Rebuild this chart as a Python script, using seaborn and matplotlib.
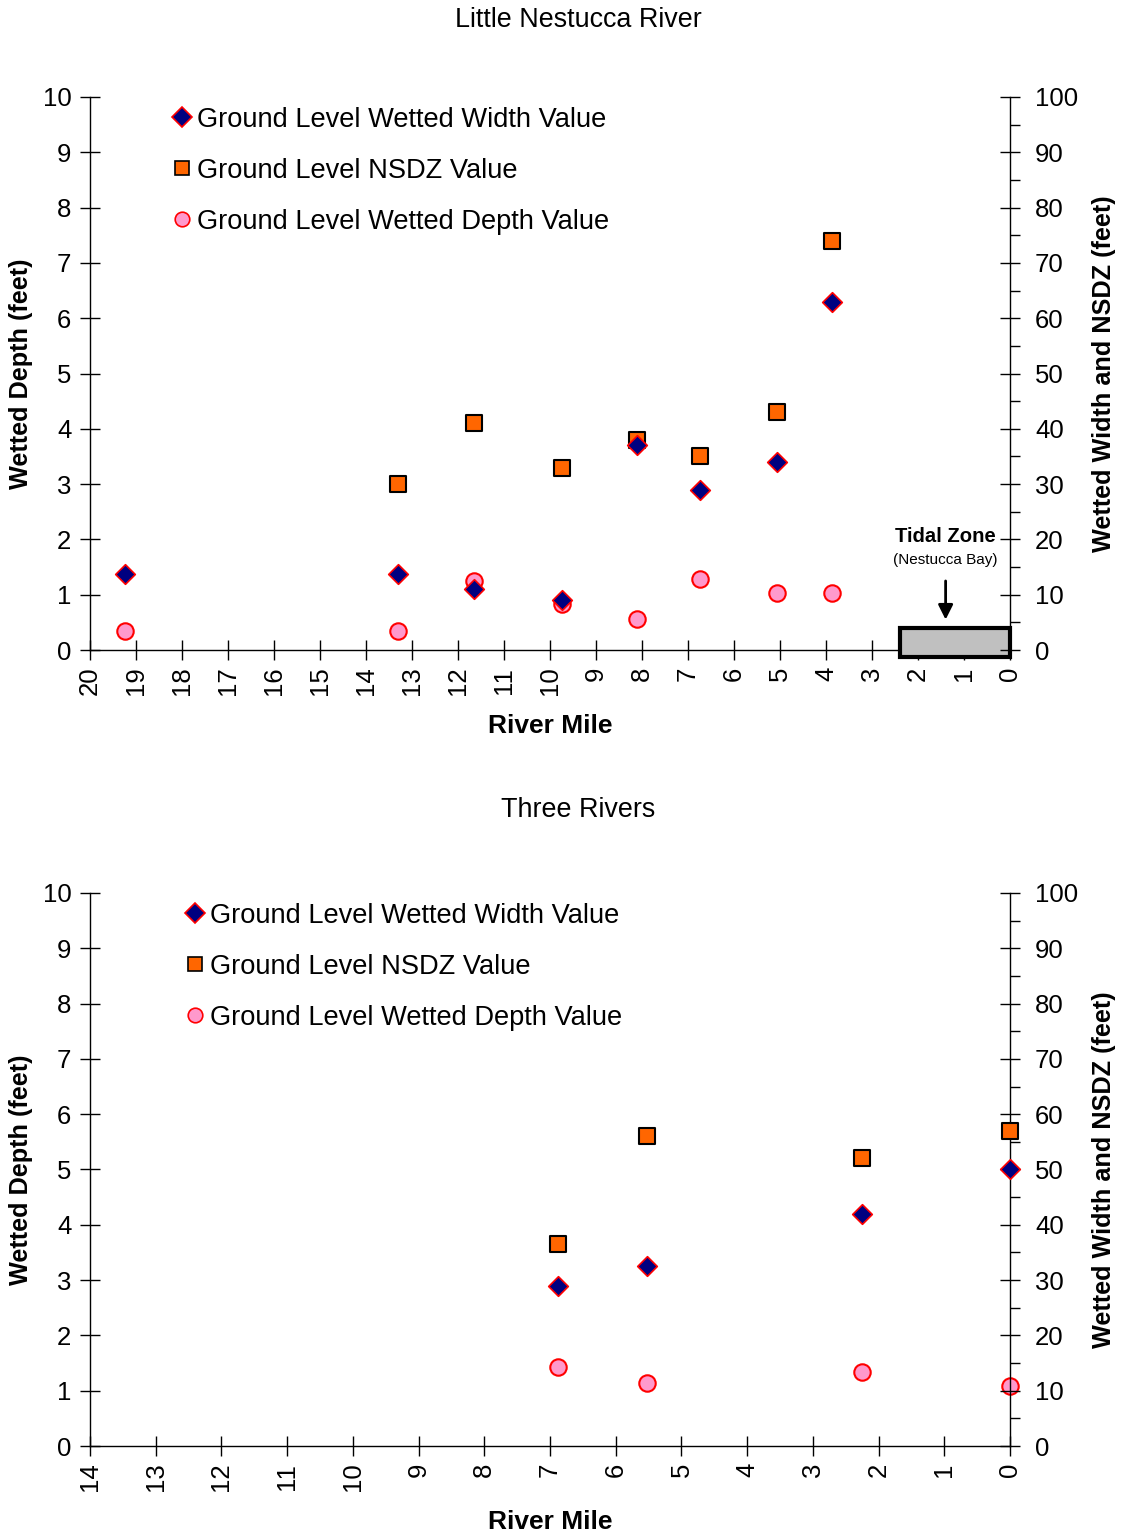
import matplotlib
matplotlib.use("Agg")
import matplotlib.pyplot as plt
import seaborn as sns
import pandas as pd
from matplotlib.lines import Line2D
from matplotlib.patches import Rectangle

# Little Nestucca River
ln_mile = [19.24, 13.3, 11.65, 9.74, 8.1, 6.74, 5.07, 3.87]
ln_width = [13.7, 13.7, 11.0, 9.0, 37.0, 29.0, 34.0, 63.0]
ln_nsdz = [None, 30.0, 41.0, 33.0, 38.0, 35.0, 43.0, 74.0]
ln_depth = [0.34, 0.34, 1.25, 0.83, 0.56, 1.29, 1.03, 1.03]

# Three Rivers
tr_mile = [6.88, 5.53, 2.25, 0.0]
tr_width = [28.9, 32.5, 42.0, 50.0]
tr_nsdz = [36.5, 56.0, 52.0, 57.0]
tr_depth = [1.43, 1.14, 1.34, 1.08]

titles = ["Little Nestucca River", "Three Rivers"]
x_max = [20, 14]
labels = ["Ground Level Wetted Width Value", "Ground Level NSDZ Value",
          "Ground Level Wetted Depth Value"]

sns.set_style("white")
plt.rcParams['font.family'] = ['Liberation Sans', 'DejaVu Sans']
plt.rcParams['text.color'] = 'black'
plt.rcParams['axes.labelcolor'] = 'black'
plt.rcParams['xtick.color'] = 'black'
plt.rcParams['ytick.color'] = 'black'

fig = plt.figure(figsize=(11.21, 15.39), dpi=100)
axes = [fig.add_axes([0.0803, 0.5776, 0.8207, 0.3594]),
        fig.add_axes([0.0803, 0.0604, 0.8207, 0.3594])]

datasets = [(ln_mile, ln_width, ln_nsdz, ln_depth),
            (tr_mile, tr_width, tr_nsdz, tr_depth)]

for i, ax in enumerate(axes):
    mile, width, nsdz, depth = datasets[i]
    df = pd.DataFrame({"mile": mile, "width": width, "nsdz": nsdz, "depth": depth})
    ax2 = ax.twinx()

    sns.scatterplot(data=df, x="mile", y="nsdz", ax=ax2, marker="s", s=120,
                    color="#ff6600", edgecolor="black", linewidth=1.5, zorder=3,
                    clip_on=False)
    sns.scatterplot(data=df, x="mile", y="width", ax=ax2, marker="D", s=100,
                    color="#000080", edgecolor="red", linewidth=1.2, zorder=4,
                    clip_on=False)
    sns.scatterplot(data=df, x="mile", y="depth", ax=ax, marker="o", s=140,
                    color="#ff99cc", edgecolor="red", linewidth=1.5, zorder=3,
                    clip_on=False)
    ax2.set_zorder(ax.zorder + 1)
    ax.patch.set_visible(False)

    ax.set_xlim(x_max[i], 0)
    ax.set_ylim(0, 10)
    ax2.set_ylim(0, 100)
    ax.set_xticks(range(x_max[i], -1, -1))
    ax.set_yticks(range(0, 11))
    ax2.set_yticks(range(0, 101, 10))
    ax2.set_yticks(range(5, 100, 10), minor=True)

    for a in (ax, ax2):
        a.spines["top"].set_visible(False)
        for s in a.spines.values():
            s.set_linewidth(1.0)
            s.set_color("black")
    ax.spines["right"].set_visible(False)
    ax2.spines["left"].set_visible(False)
    ax2.spines["bottom"].set_visible(False)

    ax.tick_params(axis="x", direction="inout", length=14, width=1, labelsize=18.5,
                   labelrotation=90, pad=5, bottom=True)
    ax.tick_params(axis="y", direction="inout", length=14, width=1, labelsize=18.5,
                   left=True, pad=6.5)
    ax2.tick_params(axis="y", which="major", direction="inout", length=14, width=1,
                    labelsize=18.5, right=True, pad=11)
    ax2.tick_params(axis="y", which="minor", direction="out", length=7, width=1,
                    right=True)

    ax.set_xlabel("River Mile", fontsize=19, fontweight="bold", labelpad=13)
    ax.set_ylabel("Wetted Depth (feet)", fontsize=18.2, fontweight="bold", labelpad=7)
    ax2.set_ylabel("Wetted Width and NSDZ (feet)", fontsize=18.2, fontweight="bold",
                   labelpad=10)

    handles = [
        Line2D([], [], linestyle="none", marker="D", markersize=10,
               markerfacecolor="#000080", markeredgecolor="red", markeredgewidth=1.2),
        Line2D([], [], linestyle="none", marker="s", markersize=9.5,
               markerfacecolor="#ff6600", markeredgecolor="black", markeredgewidth=1.2),
        Line2D([], [], linestyle="none", marker="o", markersize=10.5,
               markerfacecolor="#ff99cc", markeredgecolor="red", markeredgewidth=1.2),
    ]
    leg_x = 0.073 if i == 0 else 0.088
    ax2.legend(handles, labels, loc="upper left", bbox_to_anchor=(leg_x, 1.002),
               frameon=False, fontsize=19.6, handletextpad=0.05, labelspacing=0.92,
               handlelength=1.0, borderaxespad=0)

    fig.text(0.5156, 0.987 if i == 0 else 0.4737, titles[i], ha="center",
             va="center", fontsize=19.4)

# Tidal zone annotation on the first chart
tidal_x0, tidal_x1 = 2.39, 0.0
tidal_y0, tidal_y1 = -0.13, 0.4
ax = axes[0]
ax.add_patch(Rectangle((tidal_x1, tidal_y0), tidal_x0 - tidal_x1, tidal_y1 - tidal_y0,
                       facecolor="#c0c0c0", edgecolor="black", linewidth=3,
                       clip_on=False, zorder=5))
ax.annotate("", xy=(1.4, 0.5), xytext=(1.4, 1.3),
            arrowprops=dict(arrowstyle="-|>", color="black", lw=2, mutation_scale=22))
ax.text(1.4, 2.05, "Tidal Zone", ha="center", va="center", fontsize=14.6,
        fontweight="bold")
ax.text(1.4, 1.63, "(Nestucca Bay)", ha="center", va="center", fontsize=11)

fig.savefig("out.png", dpi=100)
